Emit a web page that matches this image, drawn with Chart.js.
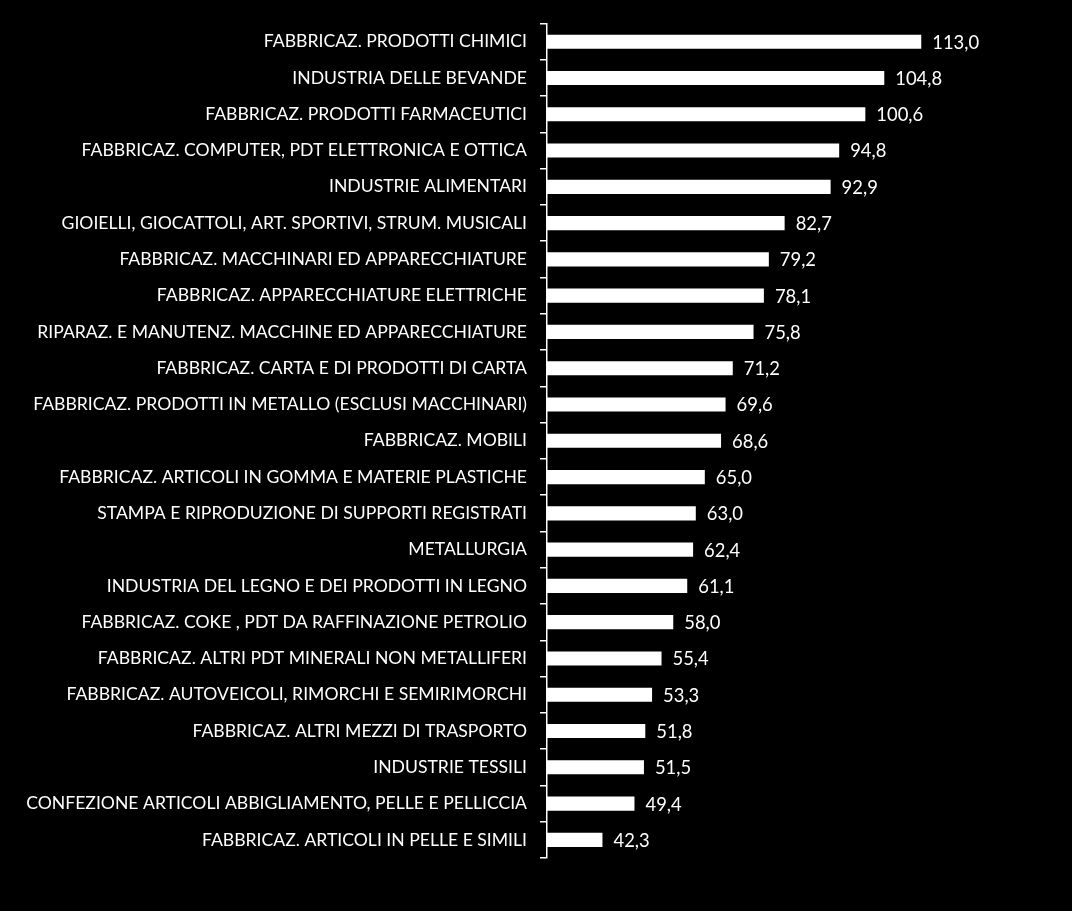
<!DOCTYPE html>
<html><head><meta charset="utf-8">
<script src="https://cdn.jsdelivr.net/npm/chart.js@4/dist/chart.umd.min.js"></script>
<style>html,body{margin:0;padding:0;background:#000;}#wrap{width:1072px;height:911px;}</style>
</head><body><div id="wrap"><canvas id="c" width="1072" height="911"></canvas></div>
<script>
const categories = [
"FABBRICAZ. PRODOTTI CHIMICI",
"INDUSTRIA DELLE BEVANDE",
"FABBRICAZ. PRODOTTI FARMACEUTICI",
"FABBRICAZ. COMPUTER, PDT ELETTRONICA E OTTICA",
"INDUSTRIE ALIMENTARI",
"GIOIELLI, GIOCATTOLI, ART. SPORTIVI, STRUM. MUSICALI",
"FABBRICAZ. MACCHINARI ED APPARECCHIATURE",
"FABBRICAZ. APPARECCHIATURE ELETTRICHE",
"RIPARAZ. E MANUTENZ. MACCHINE ED APPARECCHIATURE",
"FABBRICAZ. CARTA E DI PRODOTTI DI CARTA",
"FABBRICAZ. PRODOTTI IN METALLO (ESCLUSI MACCHINARI)",
"FABBRICAZ. MOBILI",
"FABBRICAZ. ARTICOLI IN GOMMA E MATERIE PLASTICHE",
"STAMPA E RIPRODUZIONE DI SUPPORTI REGISTRATI",
"METALLURGIA",
"INDUSTRIA DEL LEGNO E DEI PRODOTTI IN LEGNO",
"FABBRICAZ. COKE , PDT DA RAFFINAZIONE PETROLIO",
"FABBRICAZ. ALTRI PDT MINERALI NON METALLIFERI",
"FABBRICAZ. AUTOVEICOLI, RIMORCHI E SEMIRIMORCHI",
"FABBRICAZ. ALTRI MEZZI DI TRASPORTO",
"INDUSTRIE TESSILI",
"CONFEZIONE ARTICOLI ABBIGLIAMENTO, PELLE E PELLICCIA",
"FABBRICAZ. ARTICOLI IN PELLE E SIMILI"
];
const values = [113.0,104.8,100.6,94.8,92.9,82.7,79.2,78.1,75.8,71.2,69.6,68.6,65.0,63.0,62.4,61.1,58.0,55.4,53.3,51.8,51.5,49.4,42.3];
const axisMin = 30, axisMax = 140;

const FONT = 'Lato, "Open Sans", sans-serif';
const valueLabels = {
  id: 'valueLabels',
  afterDatasetsDraw(chart) {
    const ctx = chart.ctx;
    const meta = chart.getDatasetMeta(0);
    ctx.save();
    ctx.fillStyle = '#ffffff';
    ctx.font = '18.4px ' + FONT;
    ctx.textAlign = 'left';
    ctx.textBaseline = 'middle';
    meta.data.forEach((bar, i) => {
      ctx.fillText(values[i].toFixed(1).replace('.', ','), bar.x + 11, bar.y + 1);
    });
    ctx.restore();
  }
};

new Chart(document.getElementById('c'), {
  type: 'bar',
  data: {
    labels: categories,
    datasets: [{
      data: values,
      backgroundColor: '#ffffff',
      borderWidth: 0,
      categoryPercentage: 1,
      barPercentage: 0.39
    }]
  },
  options: {
    indexAxis: 'y',
    responsive: false,
    animation: false,
    devicePixelRatio: 1,
    layout: { padding: { top: 22, bottom: 53, right: 29, left: 0 } },
    plugins: { legend: { display: false }, tooltip: { enabled: false } },
    scales: {
      x: { display: false, min: axisMin, max: axisMax },
      y: {
        afterFit(s) { s.width = 547; },
        border: { display: true, color: '#ffffff', width: 1.5 },
        grid: { offset: true, drawOnChartArea: false, drawTicks: true, tickLength: 7, color: '#ffffff', lineWidth: 1.5 },
        ticks: { color: '#ffffff', font: { family: FONT, size: 17.6 }, padding: 13, autoSkip: false }
      }
    }
  },
  plugins: [valueLabels, {
    id: 'bg',
    beforeDraw(chart) { const c = chart.ctx; c.save(); c.fillStyle = '#000'; c.fillRect(0, 0, chart.width, chart.height); c.restore(); }
  }]
});
</script>
</body></html>
